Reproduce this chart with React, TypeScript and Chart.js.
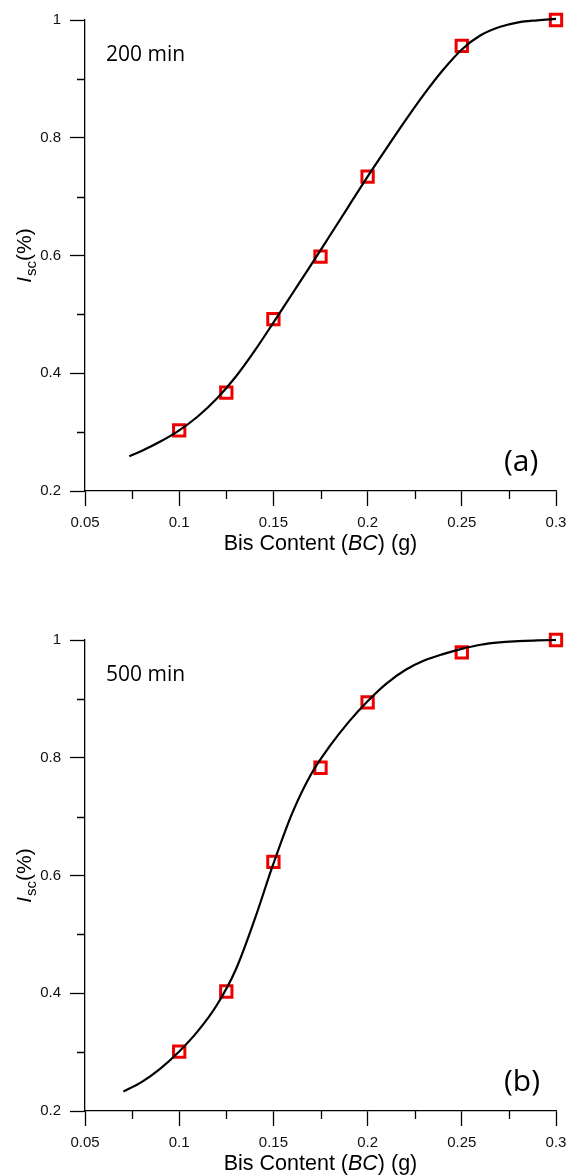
import React, { useEffect, useRef } from 'react';
import { Chart, registerables } from 'chart.js';

Chart.register(...registerables);

// Bis content (g) of the measured samples
const bcValues = [0.1, 0.125, 0.15, 0.175, 0.2, 0.25, 0.3];
// Measured Isc (%) values
const measured200 = [0.303, 0.367, 0.492, 0.598, 0.734, 0.956, 1.0];
const measured500 = [0.301, 0.403, 0.623, 0.783, 0.894, 0.979, 1.0];

// Fitted curves
const fitX200 = [0.0735, 0.08, 0.09, 0.1, 0.11, 0.12, 0.13, 0.14, 0.15, 0.16, 0.17, 0.18, 0.19, 0.2, 0.21, 0.22, 0.23, 0.24, 0.25, 0.26, 0.27, 0.28, 0.29, 0.3, 0.317];
const fitY200 = [0.259, 0.268, 0.284, 0.303, 0.327, 0.357, 0.394, 0.438, 0.486, 0.535, 0.584, 0.634, 0.684, 0.734, 0.782, 0.829, 0.874, 0.915, 0.95, 0.974, 0.988, 0.996, 0.9995, 1.002, 1.005];

const fitX500 = [0.0704, 0.08, 0.09, 0.1, 0.11, 0.12, 0.13, 0.14, 0.15, 0.16, 0.17, 0.18, 0.19, 0.2, 0.21, 0.22, 0.23, 0.24, 0.25, 0.26, 0.27, 0.28, 0.29, 0.3, 0.3135];
const fitY500 = [0.233, 0.249, 0.272, 0.301, 0.336, 0.38, 0.44, 0.525, 0.62, 0.706, 0.772, 0.82, 0.861, 0.896, 0.926, 0.949, 0.965, 0.976, 0.985, 0.992, 0.996, 0.998, 0.9995, 1.0, 0.998];

// Axes
const xTickValues = [0.05, 0.1, 0.15, 0.2, 0.25, 0.3];
const xTickLabels = ['0.05', '0.1', '0.15', '0.2', '0.25', '0.3'];
const xMinorTicks = [0.075, 0.125, 0.175, 0.225, 0.275];
const yTickValues = [0.2, 0.4, 0.6, 0.8, 1];
const yTickLabels = ['0.2', '0.4', '0.6', '0.8', '1'];
const yMinorTicks = [0.3, 0.5, 0.7, 0.9];

const AXIS_FONT = '"Liberation Sans", Arial, sans-serif';
const NOTE_FONT = '"Open Sans", "Noto Sans", sans-serif';

type PanelProps = {
  fitX: number[];
  fitY: number[];
  measured: number[];
  timeLabel: string;
  panelLabel: string;
  top: number;
};

function labelFor(values: number[], labels: string[], v: number) {
  for (let i = 0; i < values.length; i++) {
    if (Math.abs(values[i] - v) < 1e-9) return labels[i];
  }
  return '';
}

function Panel({ fitX, fitY, measured, timeLabel, panelLabel, top }: PanelProps) {
  const ref = useRef<HTMLCanvasElement>(null);

  useEffect(() => {
    const canvas = ref.current!;
    const annot = {
      id: 'annot',
      afterDraw(chart: any) {
        const ctx = chart.ctx as CanvasRenderingContext2D;
        const xs = chart.scales.x;
        const ys = chart.scales.y;
        const area = chart.chartArea;
        ctx.save();
        ctx.strokeStyle = '#000';
        ctx.lineWidth = 1.3;
        ctx.beginPath();
        xMinorTicks.forEach((v) => {
          const px = Math.round(xs.getPixelForValue(v)) + 0.5;
          ctx.moveTo(px, area.bottom);
          ctx.lineTo(px, area.bottom + 8);
        });
        yMinorTicks.forEach((v) => {
          const py = Math.round(ys.getPixelForValue(v)) + 0.5;
          ctx.moveTo(area.left - 8, py);
          ctx.lineTo(area.left, py);
        });
        ctx.stroke();

        ctx.fillStyle = '#000';
        ctx.textAlign = 'left';
        ctx.textBaseline = 'alphabetic';
        ctx.font = '21px ' + NOTE_FONT;
        ctx.fillText(timeLabel, 106, 61);
        ctx.font = '30px ' + NOTE_FONT;
        ctx.fillText(panelLabel, 504, 471);

        // x title
        const parts = [
          { t: 'Bis Content (', f: '21.5px ' + AXIS_FONT },
          { t: 'BC', f: 'italic 21.5px ' + AXIS_FONT },
          { t: ') (g)', f: '21.5px ' + AXIS_FONT },
        ];
        let total = 0;
        parts.forEach((p) => {
          ctx.font = p.f;
          total += ctx.measureText(p.t).width;
        });
        let x0 = (area.left + area.right) / 2 - total / 2;
        parts.forEach((p) => {
          ctx.font = p.f;
          ctx.fillText(p.t, x0, 550);
          x0 += ctx.measureText(p.t).width;
        });

        // y title
        ctx.translate(31, (area.top + area.bottom) / 2);
        ctx.rotate(-Math.PI / 2);
        const yParts = [
          { t: 'I', f: 'italic 21px ' + AXIS_FONT, dy: 0, gap: 1 },
          { t: 'sc', f: '15px ' + AXIS_FONT, dy: 5, gap: 0 },
          { t: '(%)', f: '21px ' + AXIS_FONT, dy: 0, gap: 0 },
        ];
        let yt = 0;
        yParts.forEach((p) => {
          ctx.font = p.f;
          yt += ctx.measureText(p.t).width + p.gap;
        });
        let y0 = -yt / 2;
        yParts.forEach((p) => {
          ctx.font = p.f;
          ctx.fillText(p.t, y0, p.dy);
          y0 += ctx.measureText(p.t).width + p.gap;
        });
        ctx.restore();
      },
    };

    const chart = new Chart(canvas, {
      type: 'scatter',
      data: {
        datasets: [
          {
            data: fitX.map((x, i) => ({ x, y: fitY[i] })),
            showLine: true,
            borderColor: '#000',
            borderWidth: 2.2,
            pointRadius: 0,
            cubicInterpolationMode: 'monotone',
            fill: false,
            clip: false,
            order: 0,
          } as any,
          {
            data: bcValues.map((x, i) => ({ x, y: measured[i] })),
            showLine: false,
            pointStyle: 'rect',
            pointRadius: 8,
            pointBorderWidth: 3,
            pointBorderColor: '#ee0000',
            pointBackgroundColor: '#ffffff',
            borderColor: '#ee0000',
            backgroundColor: '#ffffff',
            clip: false,
            order: 1,
          } as any,
        ],
      },
      options: {
        animation: false,
        responsive: false,
        events: [],
        layout: { padding: { left: 0, right: 32, top: 20, bottom: 0 } },
        plugins: { legend: { display: false }, tooltip: { enabled: false } },
        scales: {
          x: {
            type: 'linear',
            min: 0.05,
            max: 0.3,
            afterBuildTicks: (s: any) => {
              s.ticks = xTickValues.map((v) => ({ value: v }));
            },
            afterFit: (s: any) => {
              s.height = 129;
            },
            grid: {
              display: true,
              drawOnChartArea: false,
              drawTicks: true,
              tickLength: 15,
              tickColor: '#000',
              tickWidth: 1.3,
            },
            border: { display: true, color: '#000', width: 1.3 },
            ticks: {
              autoSkip: false,
              maxRotation: 0,
              padding: 8,
              color: '#111',
              font: { family: AXIS_FONT, size: 15 },
              callback: (v: any) => labelFor(xTickValues, xTickLabels, Number(v)),
            },
          },
          y: {
            type: 'linear',
            min: 0.2,
            max: 1,
            afterBuildTicks: (s: any) => {
              s.ticks = yTickValues.map((v) => ({ value: v }));
            },
            afterFit: (s: any) => {
              s.width = 85;
            },
            grid: {
              display: true,
              drawOnChartArea: false,
              drawTicks: true,
              tickLength: 15,
              tickColor: '#000',
              tickWidth: 1.3,
            },
            border: { display: true, color: '#000', width: 1.3 },
            ticks: {
              autoSkip: false,
              padding: 9,
              color: '#111',
              font: { family: AXIS_FONT, size: 15 },
              callback: (v: any) => labelFor(yTickValues, yTickLabels, Number(v)),
            },
          },
        },
      },
      plugins: [annot],
    } as any);

    return () => chart.destroy();
  }, []);

  return (
    <canvas
      ref={ref}
      width={588}
      height={620}
      style={{ position: 'absolute', left: 0, top, width: 588, height: 620, display: 'block' }}
    />
  );
}

export default function App() {
  return (
    <div
      style={{
        position: 'fixed',
        left: 0,
        top: 0,
        width: 588,
        height: 1176,
        overflow: 'hidden',
        background: '#fff',
      }}
    >
      <Panel fitX={fitX200} fitY={fitY200} measured={measured200} timeLabel="200 min" panelLabel="(a)" top={0} />
      <Panel fitX={fitX500} fitY={fitY500} measured={measured500} timeLabel="500 min" panelLabel="(b)" top={620} />
    </div>
  );
}
